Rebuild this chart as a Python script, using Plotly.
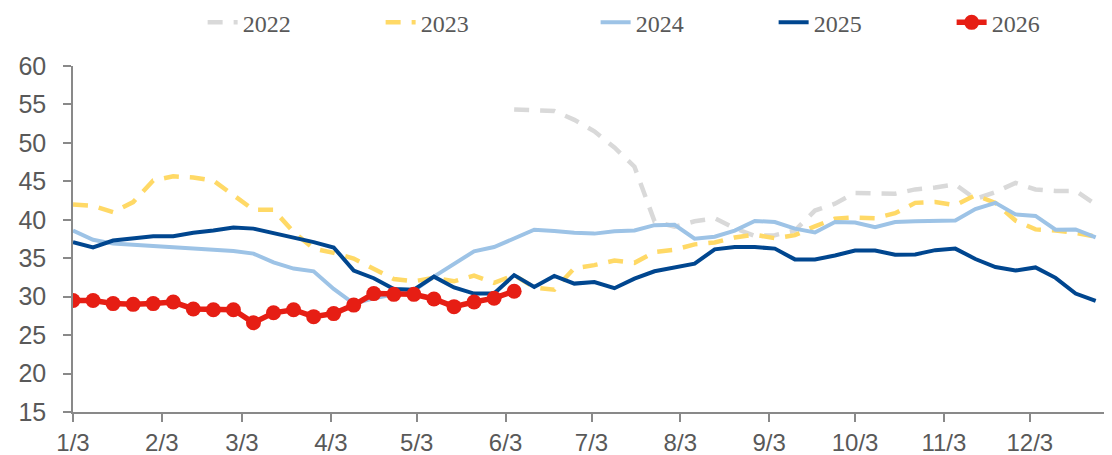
import pandas as pd
import plotly.graph_objects as go

# ---- data ----
week_dates = pd.date_range("2026-01-03", periods=52, freq="7D")

tick_dates = ["2026-01-03", "2026-02-03", "2026-03-03", "2026-04-03", "2026-05-03", "2026-06-03",
              "2026-07-03", "2026-08-03", "2026-09-03", "2026-10-03", "2026-11-03", "2026-12-03"]
tick_labels = ["1/3", "2/3", "3/3", "4/3", "5/3", "6/3", "7/3", "8/3", "9/3", "10/3", "11/3", "12/3"]

y_ticks = [15, 20, 25, 30, 35, 40, 45, 50, 55, 60]

start_2022 = 22
v2022 = [54.35, 54.25, 54.15, 53.0, 51.5, 49.4, 46.9, 39.8, 39.1, 39.8,
         40.2, 38.9, 37.9, 38.0, 38.6, 41.2, 42.1, 43.5, 43.45, 43.4,
         43.95, 44.2, 44.6, 42.7, 43.6, 44.8, 43.95, 43.75, 43.75, 42.0]

v2023 = [42.0, 41.8, 41.0, 42.3, 45.1, 45.65, 45.5, 45.1, 43.2, 41.3,
         41.3, 38.4, 36.25, 35.7, 34.95, 33.65, 32.3, 32.0, 32.45, 32.0,
         32.75, 31.8, 32.8, 31.2, 30.9, 33.7, 34.1, 34.7, 34.4, 35.8,
         36.1, 36.8, 37.05, 37.7, 38.05, 37.6, 38.0, 39.15, 40.15, 40.3,
         40.2, 40.85, 42.2, 42.3, 41.9, 43.2, 42.2, 39.9, 38.75, 38.6,
         38.3, 37.8]

v2024 = [38.6, 37.4, 36.9, 36.75, 36.6, 36.45, 36.3, 36.1, 35.95, 35.6,
         34.45, 33.65, 33.3, 31.0, 29.1, 29.8, 30.3, 30.8, 32.6, 34.3,
         35.9, 36.45, 37.6, 38.7, 38.55, 38.3, 38.2, 38.5, 38.6, 39.3,
         39.35, 37.55, 37.8, 38.6, 39.85, 39.7, 38.85, 38.35, 39.7, 39.65,
         39.05, 39.7, 39.8, 39.8, 39.9, 41.4, 42.2, 40.7, 40.5, 38.7,
         38.75, 37.7]

v2025 = [37.1, 36.4, 37.3, 37.6, 37.85, 37.85, 38.3, 38.6, 39.0, 38.85,
         38.3, 37.7, 37.1, 36.4, 33.4, 32.4, 31.0, 30.9, 32.6, 31.2,
         30.4, 30.4, 32.8, 31.25, 32.7, 31.7, 31.9, 31.1, 32.35, 33.3,
         33.85, 34.3, 36.15, 36.45, 36.45, 36.25, 34.85, 34.85, 35.35, 36.0,
         36.0, 35.45, 35.5, 36.05, 36.25, 34.9, 33.85, 33.4, 33.8, 32.45,
         30.4, 29.45]

v2026 = [29.5, 29.5, 29.1, 29.0, 29.1, 29.3, 28.4, 28.3, 28.3, 26.6,
         27.9, 28.3, 27.4, 27.8, 28.9, 30.4, 30.3, 30.3, 29.7, 28.7,
         29.3, 29.8, 30.7]

# ---- styles ----
TEXT = "#595959"
AXIS = "#898989"
DASH = "15px,11px"

fig = go.Figure()
fig.add_trace(go.Scatter(x=week_dates[start_2022:start_2022 + len(v2022)], y=v2022, name="2022",
                         mode="lines", line=dict(color="#D9D9D9", width=4.5, dash=DASH),
                         legendwidth=133))
fig.add_trace(go.Scatter(x=week_dates[:len(v2023)], y=v2023, name="2023",
                         mode="lines", line=dict(color="#FFD966", width=4.5, dash=DASH),
                         legendwidth=170))
fig.add_trace(go.Scatter(x=week_dates[:len(v2024)], y=v2024, name="2024",
                         mode="lines", line=dict(color="#9DC3E6", width=4),
                         legendwidth=133))
fig.add_trace(go.Scatter(x=week_dates[:len(v2025)], y=v2025, name="2025",
                         mode="lines", line=dict(color="#00468F", width=4),
                         legendwidth=133))
fig.add_trace(go.Scatter(x=week_dates[:len(v2026)], y=v2026, name="2026",
                         mode="lines+markers", line=dict(color="#E61E14", width=5.5),
                         marker=dict(size=15, color="#E61E14"),
                         legendwidth=60))

# the page body has an 8px default margin, so the figure is sized/offset for it
fig.update_layout(
    width=1104, height=447,
    margin=dict(l=65, r=2, t=58, b=43, autoexpand=False),
    paper_bgcolor="white", plot_bgcolor="white",
    showlegend=True,
    legend=dict(orientation="h", x=0.125, xanchor="left", y=1.125, yanchor="middle",
                font=dict(family="Liberation Serif", size=24, color=TEXT),
                bgcolor="rgba(0,0,0,0)", traceorder="normal"),
    font=dict(family="Liberation Sans", size=24, color=TEXT),
)

fig.update_xaxes(type="date", range=["2026-01-03", "2026-12-31"],
                 tickvals=tick_dates, ticktext=tick_labels,
                 showline=True, linecolor=AXIS, linewidth=1.5,
                 ticks="outside", ticklen=8, tickcolor=AXIS, tickwidth=1.5,
                 showgrid=False, zeroline=False, automargin=False,
                 tickfont=dict(family="Liberation Sans", size=24, color=TEXT))
fig.update_yaxes(range=[15, 60], tickvals=y_ticks,
                 showline=True, linecolor=AXIS, linewidth=1.5,
                 ticks="outside", ticklen=8, tickcolor=AXIS, tickwidth=1.5,
                 showgrid=False, zeroline=False, automargin=False,
                 ticklabelstandoff=12,
                 tickfont=dict(family="Liberation Sans", size=25, color=TEXT))

fig.write_html("out.html")
